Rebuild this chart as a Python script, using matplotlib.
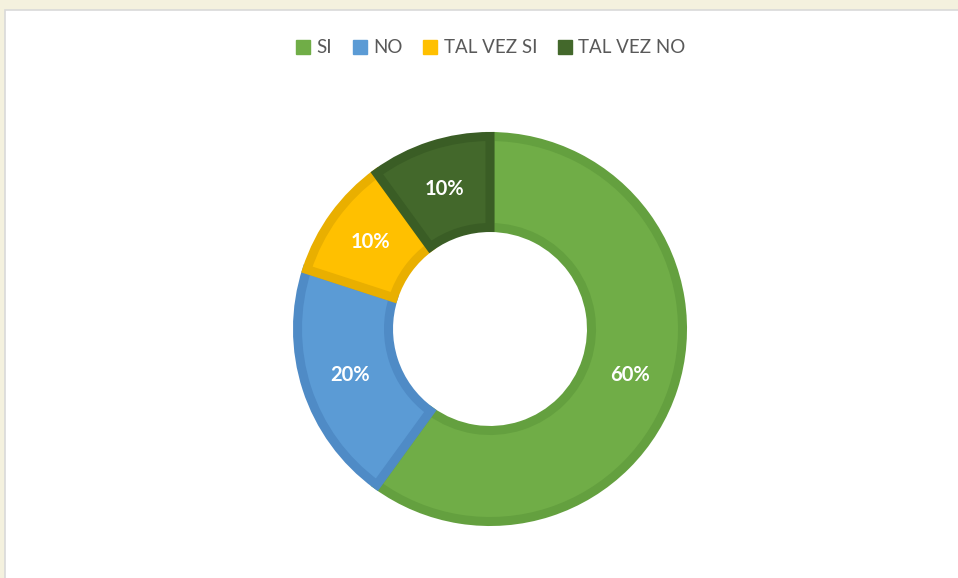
import matplotlib.pyplot as plt
from matplotlib.lines import Line2D
from matplotlib.patches import Rectangle

# data
labels = ["SI", "NO", "TAL VEZ SI", "TAL VEZ NO"]
values = [60, 20, 10, 10]
fills = ["#70AD47", "#5B9BD5", "#FFC000", "#43682B"]
edges = ["#64A03F", "#4F8BC6", "#E9AF00", "#3A5D25"]

fig = plt.figure(figsize=(9.58, 5.78), dpi=100)
fig.patch.set_facecolor("#f4f1de")

ax = fig.add_axes([0, 0, 1, 1])
ax.set_xlim(0, 958)
ax.set_ylim(0, 578)
ax.set_aspect("equal")
ax.axis("off")

# white chart area with thin grey border
ax.add_patch(Rectangle((5, -2), 960, 570, facecolor="white",
                       edgecolor="#d9d9d9", linewidth=1.2))

wedges, texts, autotexts = ax.pie(
    values, colors=fills, startangle=90, counterclock=False,
    center=(490, 249), radius=192.5,
    autopct="%1.0f%%", pctdistance=0.765,
    wedgeprops=dict(width=91, linewidth=6.5, joinstyle="miter"),
    textprops=dict(color="white", fontsize=14.5, fontweight="bold",
                   family="Lato"))
for w, ec in zip(wedges, edges):
    w.set_edgecolor(ec)

ax.set_xlim(0, 958)
ax.set_ylim(0, 578)

handles = [Line2D([], [], marker="s", linestyle="", markersize=9.5,
                  markerfacecolor=c, markeredgecolor=c) for c in fills]
fig.legend(handles, labels, loc="center", bbox_to_anchor=(0.512, 0.917),
           ncol=4, frameon=False, handlelength=0.8, handletextpad=0.3,
           columnspacing=1.1, prop=dict(family="Lato", size=13.5),
           labelcolor="#595959")

fig.savefig("out.png", dpi=100, facecolor=fig.get_facecolor())
